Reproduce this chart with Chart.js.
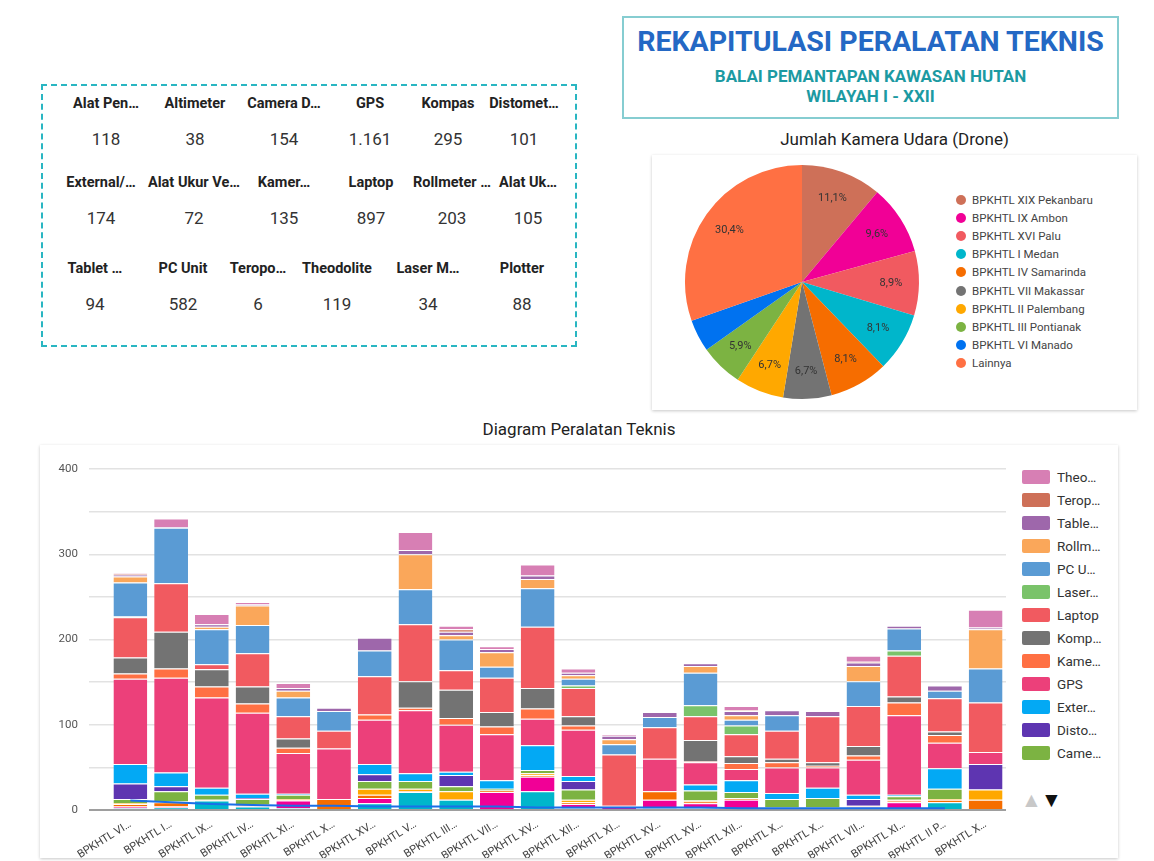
<!DOCTYPE html>
<html>
<head>
<meta charset="utf-8">
<script src="https://cdn.jsdelivr.net/npm/chart.js@4/dist/chart.umd.min.js"></script>
<style>
body { margin:0; width:1154px; height:861px; background:#fff; font-family: Roboto, "Noto Sans", sans-serif; position:relative; overflow:hidden; }
.abs { position:absolute; }
#kotakKartu { left:41px; top:84px; width:532px; height:259px; border:2px dashed #29b6c2; }
.kartu { position:absolute; width:120px; text-align:center; }
.kartu .nama { font-weight:bold; font-size:14.5px; line-height:16px; color:#222; white-space:nowrap; }
.kartu .nilai { font-size:17px; line-height:20px; color:#333; margin-top:17px; }
#judulBox { left:622px; top:16px; width:493px; height:99px; border:2px solid #86cdd1; text-align:center; }
#judulBox .utama { font-size:28.5px; line-height:30px; font-weight:bold; color:#2468c4; margin-top:9px; white-space:nowrap; }
#judulBox .sub { font-size:17px; line-height:20px; font-weight:bold; color:#1c9aa2; white-space:nowrap; }
.judulGrafik { font-size:17px; line-height:18px; color:#222; text-align:center; }
.kartuGrafik { background:#fff; box-shadow:0 1px 3px rgba(0,0,0,0.22); }
.itemPie { height:18.1px; display:flex; align-items:center; font-size:11.5px; color:#444; white-space:nowrap; }
.itemPie span.b { width:10px; height:10px; border-radius:50%; margin-right:6px; flex:none; }
.itemBar { height:23px; display:flex; align-items:center; font-size:13.5px; color:#333; white-space:nowrap; }
.itemBar span.b { width:28px; height:14px; border-radius:2px; margin-right:7px; flex:none; }
</style>
</head>
<body>

<div id="kotakKartu" class="abs"></div>

<div id="judulBox" class="abs">
  <div class="utama">REKAPITULASI PERALATAN TEKNIS</div>
  <div class="sub" style="margin-top:9px">BALAI PEMANTAPAN KAWASAN HUTAN</div>
  <div class="sub">WILAYAH I - XXII</div>
</div>

<div class="abs judulGrafik" style="left:646px; top:130px; width:497px;">Jumlah Kamera Udara (Drone)</div>
<div class="abs kartuGrafik" style="left:652px; top:155px; width:485px; height:255px;"></div>
<canvas id="pieChart" class="abs" width="240" height="240" style="left:682px; top:162px;"></canvas>
<div id="legendPie" class="abs" style="left:956px; top:191px;"></div>

<div class="abs judulGrafik" style="left:40px; top:420px; width:1078px;">Diagram Peralatan Teknis</div>
<div class="abs kartuGrafik" style="left:40px; top:445px; width:1078px; height:413px;"></div>
<canvas id="barChart" class="abs" width="975" height="413" style="left:40px; top:445px;"></canvas>
<div id="legendBar" class="abs" style="left:1022px; top:465px;"></div>
<div class="abs" style="left:1021px; top:788px; font-size:21px; color:#c8c8c8;">&#9650;</div>
<div class="abs" style="left:1041px; top:788px; font-size:21px; color:#111;">&#9660;</div>

<script>

// kartu ringkasan
const namaAlat = ["Alat Pen…", "Altimeter", "Camera D…", "GPS", "Kompas", "Distomet…",
    "External/…", "Alat Ukur Ve…", "Kamer…", "Laptop", "Rollmeter …", "Alat Uk…",
    "Tablet …", "PC Unit", "Teropo…", "Theodolite", "Laser M…", "Plotter"];
const totalAlat = [118, 38, 154, 1161, 295, 101, 174, 72, 135, 897, 203, 105, 94, 582, 6, 119, 34, 88];

// pie drone
const wilayahDrone = ["BPKHTL XIX Pekanbaru", "BPKHTL IX Ambon", "BPKHTL XVI Palu", "BPKHTL I Medan",
    "BPKHTL IV Samarinda", "BPKHTL VII Makassar", "BPKHTL II Palembang", "BPKHTL III Pontianak",
    "BPKHTL VI Manado", "Lainnya"];
const jumlahDrone = [15, 13, 12, 11, 11, 9, 9, 8, 6, 41];
const warnaDrone = ["#ce7058", "#f10096", "#f15a60", "#00b6cb", "#f66d00", "#737373", "#ffa800", "#7cb342", "#0072f0", "#ff7043"];

// diagram batang
const balai = ["BPKHTL VI…", "BPKHTL I…", "BPKHTL IX…", "BPKHTL IV…", "BPKHTL XI…", "BPKHTL X…",
    "BPKHTL XV…", "BPKHTL V…", "BPKHTL III…", "BPKHTL VII…", "BPKHTL XV…", "BPKHTL XII…",
    "BPKHTL XI…", "BPKHTL XV…", "BPKHTL XV…", "BPKHTL XII…", "BPKHTL X…", "BPKHTL X…",
    "BPKHTL VII…", "BPKHTL XI…", "BPKHTL II P…", "BPKHTL X…"];

const alatPen   = [2, 3, 11, 4, 2, 1, 8, 21, 12, 1, 22, 2, 1, 2, 2, 2, 3, 3, 3, 2, 9, 0];
const alatUk    = [2, 1, 0, 1, 9, 0, 6, 0, 0, 20, 17, 5, 3, 10, 6, 10, 0, 0, 1, 7, 0, 0];
const alatUkurVe = [3, 5, 0, 1, 1, 12, 4, 1, 1, 2, 2, 2, 0, 10, 2, 2, 0, 0, 0, 2, 3, 12];
const altimeter = [1, 1, 1, 1, 1, 0, 7, 3, 9, 0, 2, 3, 0, 0, 1, 0, 0, 0, 1, 1, 1, 12];
const cameraD   = [5, 12, 6, 6, 5, 0, 9, 9, 6, 2, 4, 12, 0, 0, 12, 7, 10, 11, 0, 4, 12, 0];
const distomet  = [18, 6, 0, 1, 0, 0, 8, 0, 13, 0, 0, 10, 0, 0, 0, 0, 0, 0, 8, 0, 0, 30];
const external  = [23, 16, 8, 5, 1, 0, 12, 9, 4, 10, 29, 6, 0, 0, 7, 14, 7, 12, 5, 2, 24, 0];
const gps       = [100, 111, 106, 95, 48, 59, 52, 74, 55, 54, 31, 54, 1, 38, 26, 13, 30, 24, 41, 93, 30, 14];
const kamera    = [6, 11, 13, 11, 6, 0, 6, 3, 8, 9, 12, 5, 0, 0, 1, 7, 6, 2, 5, 15, 9, 0];
const kompas    = [19, 43, 20, 20, 11, 0, 0, 31, 33, 17, 24, 11, 0, 0, 25, 8, 4, 4, 11, 7, 4, 0];
const laptop    = [47, 57, 6, 39, 26, 21, 45, 67, 23, 40, 72, 33, 60, 37, 28, 26, 33, 54, 47, 48, 39, 58];
const laserM    = [1, 0, 0, 0, 0, 0, 0, 0, 0, 0, 0, 3, 0, 0, 13, 10, 0, 0, 0, 6, 0, 0];
const pcUnit    = [40, 65, 41, 33, 22, 23, 30, 41, 36, 13, 45, 8, 12, 12, 38, 7, 18, 0, 29, 26, 9, 40];
const rollmeter = [7, 0, 3, 23, 8, 0, 0, 41, 5, 17, 11, 4, 6, 0, 8, 5, 0, 0, 18, 0, 0, 46];
const tablet    = [2, 1, 3, 1, 3, 4, 15, 5, 4, 4, 4, 3, 4, 6, 3, 5, 6, 6, 4, 3, 6, 2];
const teropong  = [1, 0, 0, 0, 0, 0, 0, 0, 3, 0, 0, 0, 0, 0, 0, 1, 0, 0, 1, 0, 0, 0];
const theodolite = [1, 10, 12, 3, 6, 0, 0, 21, 4, 3, 13, 5, 2, 0, 0, 5, 0, 0, 7, 0, 0, 21];
const plotter   = [11, 9, 7, 6, 5, 5, 4, 4, 4, 4, 3, 3, 3, 3, 3, 2, 2, 2, 2, 2, 2, null];

const namaSeri = ["Alat Pen…", "Alat Uk…", "Alat Ukur Ve…", "Altimeter", "Came…", "Disto…", "Exter…",
    "GPS", "Kame…", "Komp…", "Laptop", "Laser…", "PC U…", "Rollm…", "Table…", "Terop…", "Theo…"];
const nilaiSeri = [alatPen, alatUk, alatUkurVe, altimeter, cameraD, distomet, external, gps, kamera,
    kompas, laptop, laserM, pcUnit, rollmeter, tablet, teropong, theodolite];
const warnaSeri = ["#00b6cb", "#f10096", "#f66d00", "#ffa800", "#7cb342", "#5e35b1", "#03a9f4",
    "#ec407a", "#ff7043", "#737373", "#f15a60", "#7ac36a", "#5a9bd4", "#faa75a", "#9e67ab", "#ce7058", "#d77fb4"];


function formatAngka(n) {
    return String(n).replace(/\B(?=(\d{3})+(?!\d))/g, ".");
}

function buatKartu() {
    const kotak = document.getElementById("kotakKartu");

    // titik tengah tiap kartu (x halaman) per baris, dan posisi atas baris
    const tengahKolom = [
        [106, 195, 284, 370, 448, 524],
        [101, 194, 284, 371, 452, 528],
        [95, 183, 258, 337, 428, 522]
    ];
    const atasBaris = [10, 89, 175];

    namaAlat.forEach((nama, i) => {
        const kol = i % 6;
        const bar = Math.floor(i / 6);
        const div = document.createElement("div");
        div.className = "kartu";
        div.style.left = (tengahKolom[bar][kol] - 43 - 60) + "px";
        div.style.top = atasBaris[bar] + "px";
        div.innerHTML = `<div class="nama">${nama}</div><div class="nilai">${formatAngka(totalAlat[i])}</div>`;
        kotak.appendChild(div);
    });
}

const labelPersen = {
    id: "labelPersen",
    afterDatasetsDraw(chart) {
        const ctx = chart.ctx;
        const total = jumlahDrone.reduce((a, b) => a + b, 0);
        ctx.save();
        ctx.font = "11px Roboto";
        ctx.fillStyle = "#333";
        ctx.textAlign = "center";
        ctx.textBaseline = "middle";
        chart.getDatasetMeta(0).data.forEach((arc, i) => {
            const persen = jumlahDrone[i] / total * 100;
            if (persen < 5) return;
            const p = arc.getProps(["x", "y", "startAngle", "endAngle", "outerRadius"]);
            const tengah = (p.startAngle + p.endAngle) / 2;
            const r = p.outerRadius * 0.76;
            ctx.fillText(persen.toFixed(1).replace(".", ",") + "%",
                p.x + Math.cos(tengah) * r, p.y + Math.sin(tengah) * r);
        });
        ctx.restore();
    }
};

function buatPie() {
    new Chart(document.getElementById("pieChart"), {
        type: "pie",
        data: {
            labels: wilayahDrone,
            datasets: [{
                data: jumlahDrone,
                backgroundColor: warnaDrone,
                borderWidth: 0
            }]
        },
        options: {
            responsive: false,
            animation: false,
            layout: { padding: 3 },
            plugins: {
                legend: { display: false },
                tooltip: { enabled: false }
            }
        },
        plugins: [labelPersen]
    });

    const legenda = document.getElementById("legendPie");
    wilayahDrone.forEach((nama, i) => {
        legenda.innerHTML += `<div class="itemPie"><span class="b" style="background:${warnaDrone[i]}"></span>${nama}</div>`;
    });
}

function buatBatang() {
    const datasets = nilaiSeri.map((nilai, i) => ({
        label: namaSeri[i],
        data: nilai,
        backgroundColor: warnaSeri[i],
        borderColor: "rgba(255,255,255,0.85)",
        borderWidth: { top: 1, right: 0, bottom: 0, left: 0 },
        borderSkipped: false,
        categoryPercentage: 0.83,
        barPercentage: 1,
        order: 1
    }));

    datasets.push({
        type: "line",
        label: "Plotter",
        data: plotter,
        borderColor: "#1a6fe8",
        borderWidth: 2,
        pointRadius: 0,
        tension: 0,
        stack: "garis",
        order: 0
    });

    const warnaGrid = c => c.tick.value === 0 ? "#9e9e9e" : "#e2e2e2";
    const tebalGrid = c => c.tick.value === 0 ? 2 : 1.5;

    new Chart(document.getElementById("barChart"), {
        type: "bar",
        data: {
            labels: balai,
            datasets: datasets
        },
        options: {
            responsive: false,
            animation: false,
            layout: { padding: { top: 24, right: 9, left: 0, bottom: 0 } },
            plugins: {
                legend: { display: false },
                tooltip: { enabled: false }
            },
            scales: {
                x: {
                    stacked: true,
                    grid: { display: false },
                    border: { display: false },
                    ticks: {
                        autoSkip: false,
                        minRotation: 32,
                        maxRotation: 32,
                        padding: 0,
                        color: "#444",
                        font: { size: 11, family: "Roboto" }
                    },
                    afterFit(s) { s.height = 48; }
                },
                y: {
                    stacked: true,
                    min: 0,
                    max: 400,
                    border: { display: false },
                    grid: {
                        drawTicks: true,
                        tickLength: 21,
                        color: warnaGrid,
                        tickColor: warnaGrid,
                        lineWidth: tebalGrid,
                        tickWidth: tebalGrid
                    },
                    ticks: {
                        stepSize: 50,
                        padding: 11,
                        color: "#555",
                        font: { size: 11.5, family: "Roboto" },
                        callback: v => v % 100 === 0 ? v : ""
                    },
                    afterFit(s) { s.width = 70; }
                }
            }
        }
    });

    // legenda halaman pertama (Came… s/d Theo…, urutan terbalik)
    const legenda = document.getElementById("legendBar");
    for (let i = namaSeri.length - 1; i >= 4; i--) {
        legenda.innerHTML += `<div class="itemBar"><span class="b" style="background:${warnaSeri[i]}"></span>${namaSeri[i]}</div>`;
    }
}

buatKartu();
buatPie();
buatBatang();
</script>
</body>
</html>
